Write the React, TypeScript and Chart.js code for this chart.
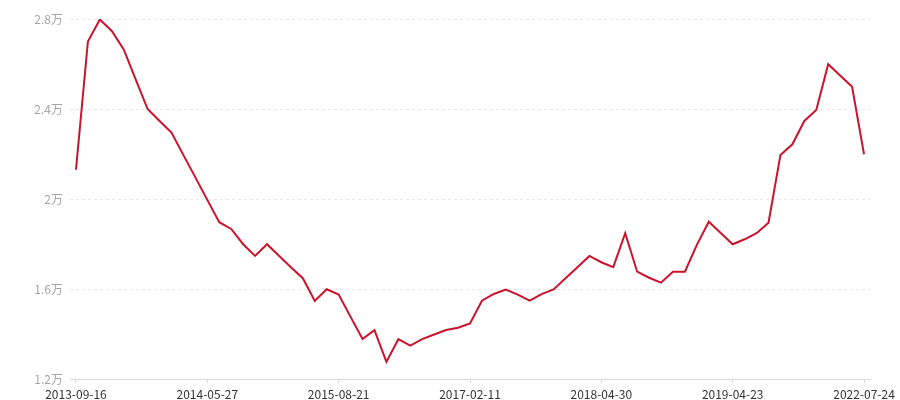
import React, { useEffect, useRef } from "react";
import { Chart, registerables } from "chart.js";

Chart.register(...registerables);

// Dates shown on the x axis (every 11th observation)
const tickDates = ["2013-09-16", "2014-05-27", "2015-08-21", "2017-02-11", "2018-04-30", "2019-04-23", "2022-07-24"];
const tickEvery = 11;

// Series values
const values = [
  21300, 27000, 27980, 27470, 26650, 25320, 24000, 23470, 22950, 21950,
  20960, 19960, 18970, 18670, 17990, 17470, 17990, 17480, 16970, 16480,
  15470, 15990, 15750, 14760, 13780, 14170, 12760, 13770, 13480, 13770,
  13980, 14180, 14280, 14470, 15480, 15780, 15970, 15750, 15480, 15770,
  15980, 16480, 16970, 17470, 17190, 16970, 18480, 16770, 16500, 16280,
  16770, 16770, 17960, 18990, 18490, 17990, 18210, 18480, 18950, 21960,
  22430, 23470, 23960, 25990, 25490, 24990, 21990,
];

const yTicks = [12000, 16000, 20000, 24000, 28000];

const labels = values.map((_, i) => (i % tickEvery === 0 ? tickDates[i / tickEvery] ?? "" : ""));

const FONT = "'Noto Sans CJK SC', 'Noto Sans', sans-serif";

export default function App() {
  const ref = useRef<HTMLCanvasElement | null>(null);

  useEffect(() => {
    if (!ref.current) return;
    const chart = new Chart(ref.current, {
      type: "line",
      data: {
        labels,
        datasets: [
          {
            data: values,
            borderColor: "#c8142c",
            borderWidth: 2,
            pointRadius: 0,
            tension: 0,
            fill: false,
          },
        ],
      },
      options: {
        animation: false,
        responsive: true,
        maintainAspectRatio: false,
        layout: { padding: { top: 19, right: 30, left: 0, bottom: 0 } },
        plugins: { legend: { display: false }, tooltip: { enabled: false } },
        scales: {
          x: {
            type: "category",
            offset: true,
            afterBuildTicks: (scale: any) => {
              scale.ticks = scale.ticks.filter((t: any) => t.value % tickEvery === 0);
            },
            afterFit: (scale: any) => {
              scale.height = 21;
            },
            grid: {
              display: true,
              offset: false,
              drawOnChartArea: false,
              drawTicks: true,
              tickLength: 4,
              color: "#d9d9d9",
            },
            border: { display: true, color: "#d9d9d9", width: 1 },
            ticks: {
              autoSkip: false,
              maxRotation: 0,
              padding: 4,
              color: "#333333",
              font: { family: FONT, size: 12 },
            },
          },
          y: {
            min: 12000,
            max: 28000,
            afterBuildTicks: (scale: any) => {
              scale.ticks = yTicks.map((v) => ({ value: v }));
            },
            afterFit: (scale: any) => {
              scale.width = 70;
            },
            grid: {
              color: (ctx: any) => (ctx.tick && ctx.tick.value === 12000 ? "rgba(0,0,0,0)" : "#e6e6e6"),
              drawTicks: false,
              lineWidth: 1,
            },
            border: { display: false, dash: [3, 3] },
            ticks: {
              padding: 7,
              color: "#a6a6a6",
              font: { family: FONT, size: 12 },
              callback: (v: any) => `${Number(v) / 10000}万`,
            },
          },
        },
      },
    });
    return () => chart.destroy();
  }, []);

  return (
    <div style={{ position: "absolute", left: 0, top: 0, width: 900, height: 400, background: "#fff" }}>
      <canvas ref={ref} />
    </div>
  );
}
